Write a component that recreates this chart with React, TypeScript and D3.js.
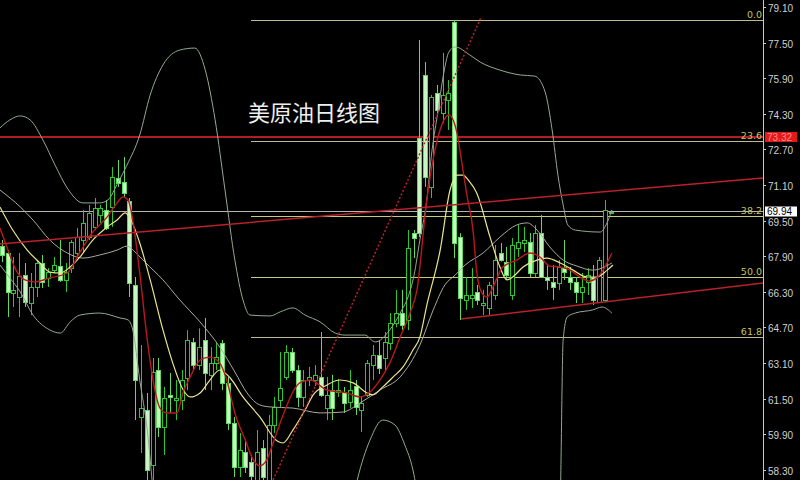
import React from 'react';
import * as d3 from 'd3';

const W = 800;
const H = 480;

// OHLC (daily candles, left to right)
const opens = [68.40,68.09,66.29,66.11,67.10,65.84,66.56,67.64,66.97,67.32,67.50,66.88,67.41,68.09,68.67,68.80,69.26,69.80,70.02,70.16,71.46,71.28,70.43,66.65,60.72,61.03,58.56,62.83,60.27,61.71,61.48,61.48,62.47,64.09,63.05,64.18,62.61,63.14,64.04,62.25,60.45,58.47,59.14,58.70,57.89,59.32,57.89,60.36,61.48,62.52,63.64,62.83,61.62,62.38,62.38,62.52,61.12,61.93,61.84,61.84,61.39,62.11,61.03,61.71,63.05,63.50,63.37,64.04,64.94,65.39,65.08,68.98,73.26,76.09,71.06,75.28,74.38,74.97,78.47,68.80,65.98,66.07,66.34,65.75,65.62,66.20,68.09,67.68,66.20,68.31,68.54,68.58,67.19,68.98,67.01,66.79,66.74,67.46,67.01,66.79,66.34,66.79,67.01,65.89,65.98,69.90];
const highs = [68.67,68.22,67.91,68.09,67.64,67.19,67.77,68.00,67.41,67.91,68.67,67.64,68.67,69.21,70.02,70.25,70.56,70.25,70.47,71.95,72.27,72.40,70.56,67.01,63.95,61.80,63.37,63.37,62.07,62.70,62.38,62.83,64.62,64.27,64.70,65.17,63.86,64.04,64.18,62.52,60.72,60.00,59.68,59.01,60.13,59.68,60.81,61.62,63.64,63.95,63.82,63.05,62.83,62.97,63.05,64.54,62.52,62.61,62.43,62.07,62.83,62.38,61.62,63.28,63.95,64.18,64.54,65.39,66.43,66.43,69.12,69.12,77.66,76.67,75.19,75.64,77.08,75.86,78.56,68.98,67.01,67.41,66.65,66.43,66.79,68.45,68.54,68.36,68.76,69.35,69.26,68.98,69.35,69.80,67.55,67.55,67.77,68.67,67.46,67.01,67.19,67.41,67.55,67.91,70.47,70.02];
const lows = [67.68,65.21,65.66,65.21,65.66,65.30,66.11,66.52,66.56,67.20,66.79,66.34,67.19,67.86,68.09,68.67,69.12,69.44,69.12,69.26,71.06,70.61,66.11,60.58,59.10,57.89,57.89,59.82,59.01,60.90,60.58,61.03,61.93,62.83,62.83,61.93,61.93,62.83,61.93,60.13,58.02,58.02,58.20,57.70,57.70,57.80,57.70,60.00,61.17,62.38,62.70,61.17,61.17,62.11,62.11,61.62,60.58,60.58,61.62,60.90,61.12,60.81,60.04,61.62,62.38,62.65,62.83,63.73,64.75,64.62,64.62,67.86,68.80,71.06,70.56,74.29,73.93,73.62,67.86,65.08,65.53,65.62,65.75,65.30,65.30,65.98,67.70,66.88,65.98,67.91,68.13,67.01,67.01,66.97,66.43,65.98,66.43,66.88,66.43,65.84,65.84,66.20,65.75,65.84,65.89,69.88];
const closes = [68.00,66.34,66.43,67.06,65.89,66.56,67.64,66.79,67.23,67.55,66.88,67.23,68.58,68.80,69.44,69.89,70.11,70.11,69.21,71.50,71.24,70.79,66.74,62.38,61.12,58.34,62.74,60.27,61.57,61.62,61.57,62.38,64.18,63.05,63.86,62.70,63.14,63.41,62.25,60.45,58.47,59.23,58.47,58.07,59.14,58.02,60.36,61.17,62.02,63.64,62.83,61.62,62.38,62.52,62.61,61.71,61.71,61.12,61.93,61.35,61.93,61.17,61.35,63.14,63.50,62.92,64.09,64.94,65.39,64.85,68.31,68.76,68.98,71.50,75.10,74.52,75.19,75.28,68.54,66.07,66.20,66.20,65.98,65.84,66.65,67.77,67.77,67.10,68.45,68.58,68.67,67.19,68.98,67.01,66.88,66.56,67.46,67.23,66.79,66.34,66.56,67.10,65.98,67.77,70.02,69.94];

// Indicator lines: [candle index, price]
const maFast: [number, number][] = [[-0.3,69.21],[0.9,68.36],[2.3,67.41],[4.0,66.88],[5.7,66.79],[8.3,66.97],[11.3,67.19],[13.5,68.13],[15.7,69.03],[18.2,69.71],[19.9,70.34],[20.9,70.61],[21.8,70.47],[22.6,69.57],[23.8,67.19],[25.1,64.18],[26.1,62.38],[27.3,61.12],[28.5,60.90],[30.2,60.90],[31.3,61.84],[32.5,62.52],[34.2,63.28],[35.9,63.41],[37.6,63.14],[38.8,62.38],[40.2,60.90],[42.0,59.68],[43.2,58.88],[44.5,58.52],[45.7,58.79],[46.8,59.55],[48.0,60.45],[49.2,61.26],[50.2,61.84],[51.4,62.25],[53.2,62.38],[56.1,61.93],[59.5,61.80],[61.8,61.62],[63.5,61.84],[65.2,62.38],[66.9,63.14],[68.7,64.31],[70.4,65.39],[71.6,66.43],[73.3,70.47],[75.1,73.17],[76.1,73.98],[77.1,74.29],[78.5,73.48],[79.4,72.04],[80.2,70.70],[81.3,69.03],[81.9,67.23],[82.8,66.29],[83.7,66.11],[84.7,66.56],[86.4,67.46],[88.8,67.77],[91.1,68.09],[92.8,67.91],[94.5,67.50],[96.3,67.46],[98.0,67.32],[99.7,67.01],[101.4,66.83],[102.6,66.97],[104.0,67.46],[105.2,68.09]];
const maSlow: [number, number][] = [[-0.3,70.16],[1.9,69.12],[4.4,68.22],[6.6,67.64],[8.3,67.23],[10.1,67.19],[11.8,67.46],[13.5,67.91],[15.7,68.67],[18.2,69.26],[19.9,69.57],[21.3,69.89],[22.1,69.66],[23.8,68.54],[25.6,66.88],[27.8,64.63],[29.5,63.14],[31.3,61.93],[32.5,61.62],[34.2,61.80],[35.9,62.38],[37.6,62.83],[39.4,62.47],[41.6,61.62],[44.5,60.72],[47.5,59.64],[48.5,59.55],[50.2,60.13],[52.3,61.03],[53.7,61.71],[56.1,62.16],[58.3,62.38],[60.6,62.25],[63.0,61.80],[64.0,61.71],[65.7,62.07],[67.5,62.52],[69.2,62.97],[70.9,63.73],[72.1,64.31],[73.3,65.75],[75.6,68.22],[77.3,70.92],[78.5,71.59],[79.5,71.59],[80.7,71.28],[81.9,70.79],[84.2,68.80],[85.9,67.46],[87.1,66.88],[88.1,67.01],[89.9,67.46],[92.3,67.77],[94.0,67.86],[96.3,67.64],[98.5,67.32],[100.9,67.01],[102.6,67.01],[104.4,67.32],[105.4,67.55]];
const bandMid: [number, number][] = [[-0.3,70.92],[3.2,70.16],[5.4,69.57],[8.3,68.67],[11.3,68.09],[14.0,67.86],[16.9,68.00],[19.9,68.22],[21.6,68.40],[23.0,68.13],[24.7,67.68],[27.8,66.88],[30.7,65.98],[34.2,64.99],[37.6,63.86],[40.2,62.74],[42.3,61.80],[44.5,61.26],[46.3,61.17],[50.2,61.12],[54.9,60.90],[58.8,60.94],[61.8,61.35],[65.2,61.93],[68.7,62.52],[72.1,63.95],[74.4,65.53],[76.4,66.65],[78.2,67.10],[79.9,67.55],[83.0,68.09],[85.9,68.80],[88.8,69.35],[90.6,69.44],[92.3,69.12],[94.5,68.36],[96.8,67.77],[99.2,67.50],[101.9,67.32],[105.2,67.64]];
const bandUpper: [number, number][] = [[-0.3,73.71],[1.4,74.07],[3.2,74.25],[4.9,74.07],[7.1,73.17],[9.2,72.04],[11.3,71.01],[14.0,70.34],[16.9,70.34],[18.3,70.47],[20.1,71.28],[21.6,72.04],[23.8,73.39],[25.6,75.19],[27.8,76.54],[30.7,77.21],[33.3,77.30],[35.1,76.31],[36.8,74.07],[38.5,70.92],[40.2,67.77],[41.6,65.98],[42.8,65.30],[46.3,65.26],[48.0,65.44],[50.2,65.62],[52.3,65.30],[54.9,64.99],[57.5,64.49],[59.2,64.40],[62.6,64.40],[64.4,64.09],[66.9,64.63],[69.0,65.53],[70.0,66.07],[71.1,67.10],[72.1,68.67],[73.2,70.29],[74.2,72.72],[75.2,74.43],[76.1,76.00],[77.1,77.12],[78.2,77.35],[80.7,76.99],[82.5,76.67],[85.9,76.31],[89.4,76.09],[91.9,76.04],[93.7,75.32],[94.9,73.62],[95.9,71.59],[96.8,70.25],[97.6,69.35],[98.9,69.12],[103.2,69.03],[104.2,69.35],[105.2,70.02]];
const bandLower: [number, number][] = [[-0.3,67.55],[1.4,66.97],[3.2,66.34],[5.4,65.30],[8.3,64.63],[10.1,64.49],[11.8,64.99],[13.5,65.30],[16.9,65.39],[20.4,65.17],[21.8,65.08],[22.6,64.63],[23.8,62.38],[25.1,60.13],[26.1,57.44],[28.2,54.29],[34.2,51.60],[51.4,52.49],[59.2,55.19],[61.3,57.89],[63.5,59.68],[65.7,60.58],[67.8,60.36],[69.5,59.46],[70.9,58.34],[72.1,56.54],[73.8,53.39],[79.0,50.25],[92.8,50.25],[95.1,52.49],[96.3,56.99],[96.8,64.18],[97.5,65.21],[98.9,65.39],[101.9,65.53],[103.5,65.66],[105.2,65.39]];

// Drawn trend lines: [candle index, price]
const trendUpper: [number, number][] = [[-0.3, 68.49], [131.3, 71.46]];
const trendLower: [number, number][] = [[79.2, 65.12], [131.3, 66.74]];
const trendDotted: [number, number][] = [[46.8, 57.89], [82.6, 78.65]];

// Fibonacci retracement
const fibLabels = ['0.0', '23.6', '38.2', '50.0', '61.8'];
const fibPrices = [78.56, 73.12, 69.75, 67.03, 64.31];
const fibStartIndex = 43;

const priceTicks = [79.10, 77.50, 75.90, 74.30, 72.70, 71.10, 69.50, 67.90, 66.30, 64.70, 63.10, 61.50, 59.90, 58.30];
const resistancePrice = 73.32;
const lastPrice = 69.94;
const title = '美原油日线图';

export default function App() {
  const axisX = 763;
  const x = d3.scaleLinear().domain([0, 105]).range([1.7, 610.7]);
  const y = d3.scaleLinear().domain([58.30, 79.10]).range([470.8, 8]);

  const curve = (pts: [number, number][]) =>
    d3.line<[number, number]>().x(d => x(d[0])).y(d => y(d[1])).curve(d3.curveMonotoneX)(pts) || '';
  const straight = (pts: [number, number][]) =>
    d3.line<[number, number]>().x(d => x(d[0])).y(d => y(d[1]))(pts) || '';

  const bullColor = '#2ec52e';
  const bearFill = '#c6f7c0';
  const bearStroke = '#62d862';
  const bandColor = '#93a993';
  const axisFont = "'Liberation Sans', Arial, sans-serif";

  const candles = opens.map((o, i) => {
    const c = closes[i];
    const cx = Math.round(x(i)) + 0.5;
    const bull = c >= o;
    const top = Math.round(y(Math.max(o, c)));
    const bot = Math.round(y(Math.min(o, c)));
    const h = Math.max(1, bot - top);
    return (
      <g key={i}>
        <line x1={cx} x2={cx} y1={y(highs[i])} y2={y(lows[i])} stroke={bull ? bullColor : bearStroke} strokeWidth={1} />
        <rect x={cx - 2} y={top + 0.5} width={4} height={h}
          fill={bull ? '#000' : bearFill} stroke={bull ? bullColor : bearStroke} strokeWidth={1} />
      </g>
    );
  });

  const lastY = Math.round(y(lastPrice));
  const resY = Math.round(y(resistancePrice));

  return (
    <svg width={W} height={H} style={{ position: 'absolute', left: 0, top: 0, background: '#000', display: 'block' }}>
      <defs>
        <clipPath id="plot"><rect x={0} y={0} width={axisX} height={H} /></clipPath>
      </defs>
      <rect x={0} y={0} width={W} height={H} fill="#000" />
      <g clipPath="url(#plot)">
        {/* fibonacci levels */}
        {fibPrices.map((p, k) => (
          <line key={k} x1={Math.round(x(fibStartIndex))} x2={axisX} y1={Math.round(y(p)) + 0.5} y2={Math.round(y(p)) + 0.5}
            stroke={k === 2 || k === 3 ? '#c9c97a' : '#bdb996'} strokeWidth={1} />
        ))}
        {/* horizontal resistance & last price */}
        <line x1={0} x2={axisX} y1={resY} y2={resY} stroke="#b31c24" strokeWidth={2} />
        <line x1={0} x2={axisX} y1={lastY - 0.5} y2={lastY - 0.5} stroke="#b4b4b4" strokeWidth={1} />
        {/* candles */}
        {candles}
        {/* bollinger bands */}
        <path d={curve(bandUpper)} fill="none" stroke={bandColor} strokeWidth={1} />
        <path d={curve(bandLower)} fill="none" stroke={bandColor} strokeWidth={1} />
        <path d={curve(bandMid)} fill="none" stroke="#a9ab9c" strokeWidth={1} />
        {/* moving averages */}
        <path d={curve(maSlow)} fill="none" stroke="#ece48e" strokeWidth={1.2} />
        <path d={curve(maFast)} fill="none" stroke="#b8191b" strokeWidth={1.4} />
        {/* trend lines */}
        <path d={straight(trendUpper)} fill="none" stroke="#b8222a" strokeWidth={1.5} />
        <path d={straight(trendLower)} fill="none" stroke="#b8222a" strokeWidth={1.5} />
        <path d={straight(trendDotted)} fill="none" stroke="#b8222a" strokeWidth={1.5} strokeDasharray="2,2" />
      </g>
      {/* fib labels */}
      {fibPrices.map((p, k) => (
        <text key={k} x={axisX - 1} y={y(p) - 2} textAnchor="end" fontFamily="'DejaVu Sans', sans-serif" fontSize={9.5} fill="#c4c462">{fibLabels[k]}</text>
      ))}
      {/* title */}
      <text x={248} y={121} fontFamily="'Noto Sans CJK SC', sans-serif" fontSize={22} fill="#eeeeee">{title}</text>
      {/* price axis */}
      <line x1={axisX + 0.5} x2={axisX + 0.5} y1={0} y2={H} stroke="#c8c8c8" strokeWidth={1} />
      {priceTicks.map((v, k) => (
        <g key={k}>
          <line x1={axisX} x2={axisX + 3} y1={Math.round(y(v)) - 0.5} y2={Math.round(y(v)) - 0.5} stroke="#c8c8c8" />
          <text x={768} y={y(v) + 4} fontFamily={axisFont} fontSize={10} fill="#d0d0d0">{v.toFixed(2)}</text>
        </g>
      ))}
      {/* resistance price tag */}
      <rect x={765} y={resY - 5} width={32} height={10} fill="#e21a1a" />
      <text x={767} y={resY + 3.5} fontFamily={axisFont} fontSize={10} fill="#ff8a8a">{resistancePrice.toFixed(2)}</text>
      {/* last price tag */}
      <rect x={765} y={lastY - 5.5} width={32} height={10} fill="#ffffff" />
      <text x={767} y={lastY + 3} fontFamily={axisFont} fontSize={10} fill="#000">{lastPrice.toFixed(2)}</text>
    </svg>
  );
}
